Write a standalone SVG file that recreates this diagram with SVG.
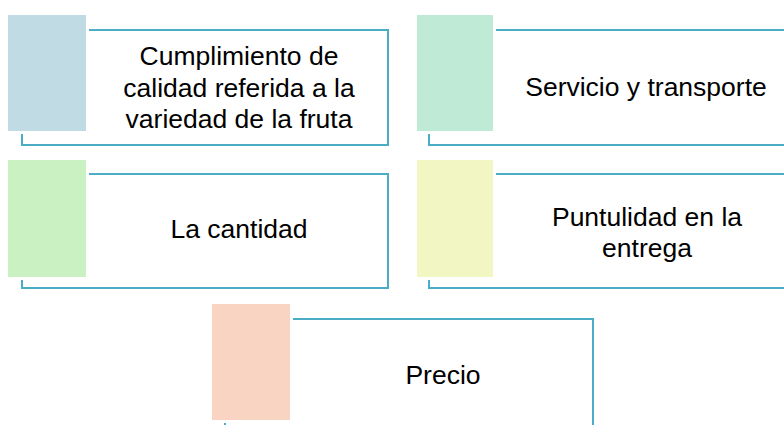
<svg xmlns="http://www.w3.org/2000/svg" width="784" height="425" viewBox="0 0 784 425">
<style>
.frame{fill:#ffffff;stroke:#4aacc5;stroke-width:2}
.pad{fill:#ffffff}
.lbl{font-family:"Liberation Sans",Arial,sans-serif;font-size:26.5px;fill:#000000;text-anchor:middle}
</style>
<rect width="784" height="425" fill="#ffffff"/>
<g id="connectors"></g>
<g id="node1">
<rect class="frame" x="22" y="30" width="366" height="115"/>
<rect class="pad" x="5" y="12" width="84" height="122"/>
<rect x="8" y="15" width="78" height="116" fill="#c1dbe5"/>
<text class="lbl" x="239" y="65">Cumplimiento de</text>
<text class="lbl" x="239" y="97">calidad referida a la</text>
<text class="lbl" x="239" y="128">variedad de la fruta</text>
</g>
<g id="node2">
<rect class="frame" x="429" y="30" width="368" height="115"/>
<rect class="pad" x="414" y="12" width="82" height="122"/>
<rect x="417" y="15" width="76" height="116" fill="#bfebd6"/>
<text class="lbl" x="646" y="96">Servicio y transporte</text>
</g>
<g id="node3">
<rect class="frame" x="22" y="174" width="366" height="114"/>
<rect class="pad" x="5" y="157" width="84" height="123"/>
<rect x="8" y="160" width="78" height="117" fill="#c9f1c1"/>
<text class="lbl" x="239" y="238">La cantidad</text>
</g>
<g id="node4">
<rect class="frame" x="429" y="174" width="368" height="114"/>
<rect class="pad" x="414" y="157" width="82" height="123"/>
<rect x="417" y="160" width="76" height="117" fill="#f2f6c2"/>
<text class="lbl" x="647" y="226">Puntulidad en la</text>
<text class="lbl" x="647" y="257">entrega</text>
</g>
<g id="node5">
<rect class="frame" x="225" y="319" width="368" height="114"/>
<rect class="pad" x="209" y="301" width="84" height="122"/>
<rect x="212" y="304" width="78" height="116" fill="#f9d4c3"/>
<text class="lbl" x="443" y="384">Precio</text>
</g>
</svg>
